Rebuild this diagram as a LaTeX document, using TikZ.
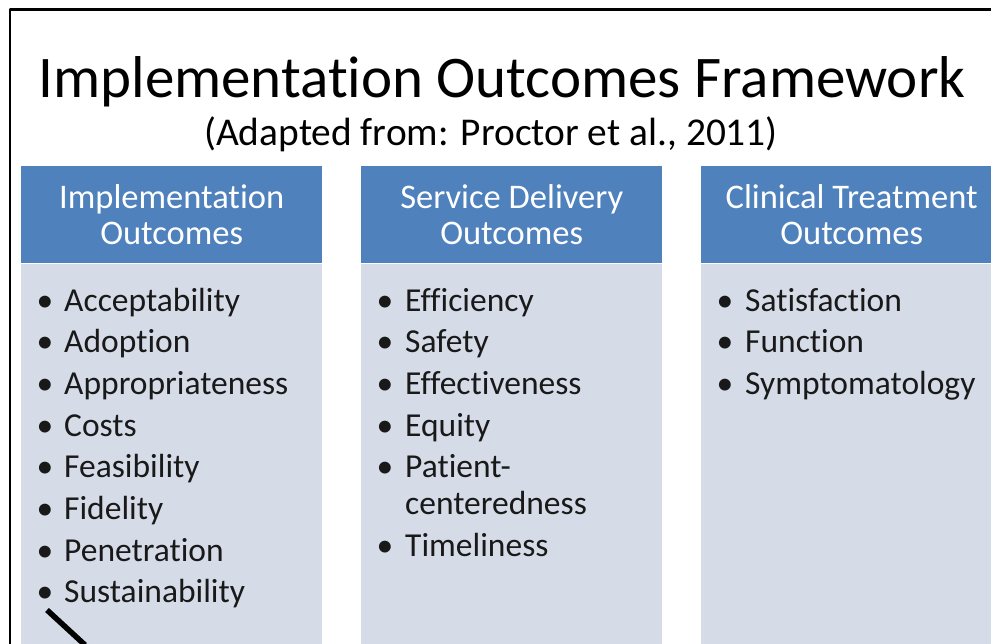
\documentclass[tikz,border=0pt]{standalone}
\usepackage{fontspec}
\setmainfont{Carlito}[Ligatures={NoCommon,NoContextual}]
\definecolor{hdrblue}{HTML}{4F81BD}
\definecolor{bodyblue}{HTML}{D5DCE8}
\tikzset{
  hdrbox/.style={fill=hdrblue,text=white,anchor=north west,minimum width=301pt,minimum height=97pt,inner sep=0pt,align=center,font=\fontsize{34.5}{36}\selectfont},
  bodybox/.style={fill=bodyblue,anchor=north,minimum width=301pt,minimum height=380pt,inner sep=0pt},
  itemtext/.style={anchor=base west,inner sep=0pt,text=black!90,font=\fontsize{33.5}{37}\selectfont},
  bulletdot/.style={anchor=base,inner sep=0pt,text=black!90,font=\fontsize{33.5}{37}\selectfont}
}
\begin{document}
\begin{tikzpicture}[x=1pt,y=-1pt,line join=round,line cap=round]
	\clip (0,0) rectangle (991,643);
	%Khung
	\draw[line width=2.5pt] (10,650)--(10,9.5)--(1000,9.5);
	%Tieu de
	\node[anchor=base] (title) at (502,97) {\fontsize{59}{64}\selectfont Implementation Outcomes Framework};
	\node[anchor=base] (subtitle) at (491,145) {\fontsize{39.4}{42}\selectfont (Adapted from: Proctor et al., 2011)};
	%Cot 1
	\node[hdrbox] (H1) at (21,166) {Implementation\\Outcomes};
	\node[bodybox] (B1) at (H1.south) {};
	\foreach \t [count=\i from 0] in {Acceptability,Adoption,Appropriateness,Costs,Feasibility,Fidelity,Penetration,Sustainability}{
		\node[bulletdot] (d1\i) at (45,311+41.7*\i) {\textbullet};
		\node[itemtext] (t1\i) at (64,311+41.7*\i) {\t};
	}
	%Cot 2
	\node[hdrbox] (H2) at (361,166) {Service Delivery\\Outcomes};
	\node[bodybox] (B2) at (H2.south) {};
	\foreach \t [count=\i from 0] in {Efficiency,Safety,Effectiveness,Equity}{
		\node[bulletdot] (d2\i) at (385,311+41.7*\i) {\textbullet};
		\node[itemtext] (t2\i) at (405,311+41.7*\i) {\t};
	}
	\node[bulletdot] (d24) at (385,477.8) {\textbullet};
	\node[itemtext] (t24) at (405,477.8) {Patient-};
	\node[itemtext] (t24b) at (405,514.8) {centeredness};
	\node[bulletdot] (d25) at (385,556.5) {\textbullet};
	\node[itemtext] (t25) at (405,556.5) {Timeliness};
	%Cot 3
	\node[hdrbox] (H3) at (701,166) {Clinical Treatment\\Outcomes};
	\node[bodybox] (B3) at (H3.south) {};
	\foreach \t [count=\i from 0] in {Satisfaction,Function,Symptomatology}{
		\node[bulletdot] (d3\i) at (725,311+41.7*\i) {\textbullet};
		\node[itemtext] (t3\i) at (745,311+41.7*\i) {\t};
	}
	%Net cheo
	\draw[line width=5.5pt,line cap=butt] (47,610)--(85,645);
\end{tikzpicture}
\end{document}
